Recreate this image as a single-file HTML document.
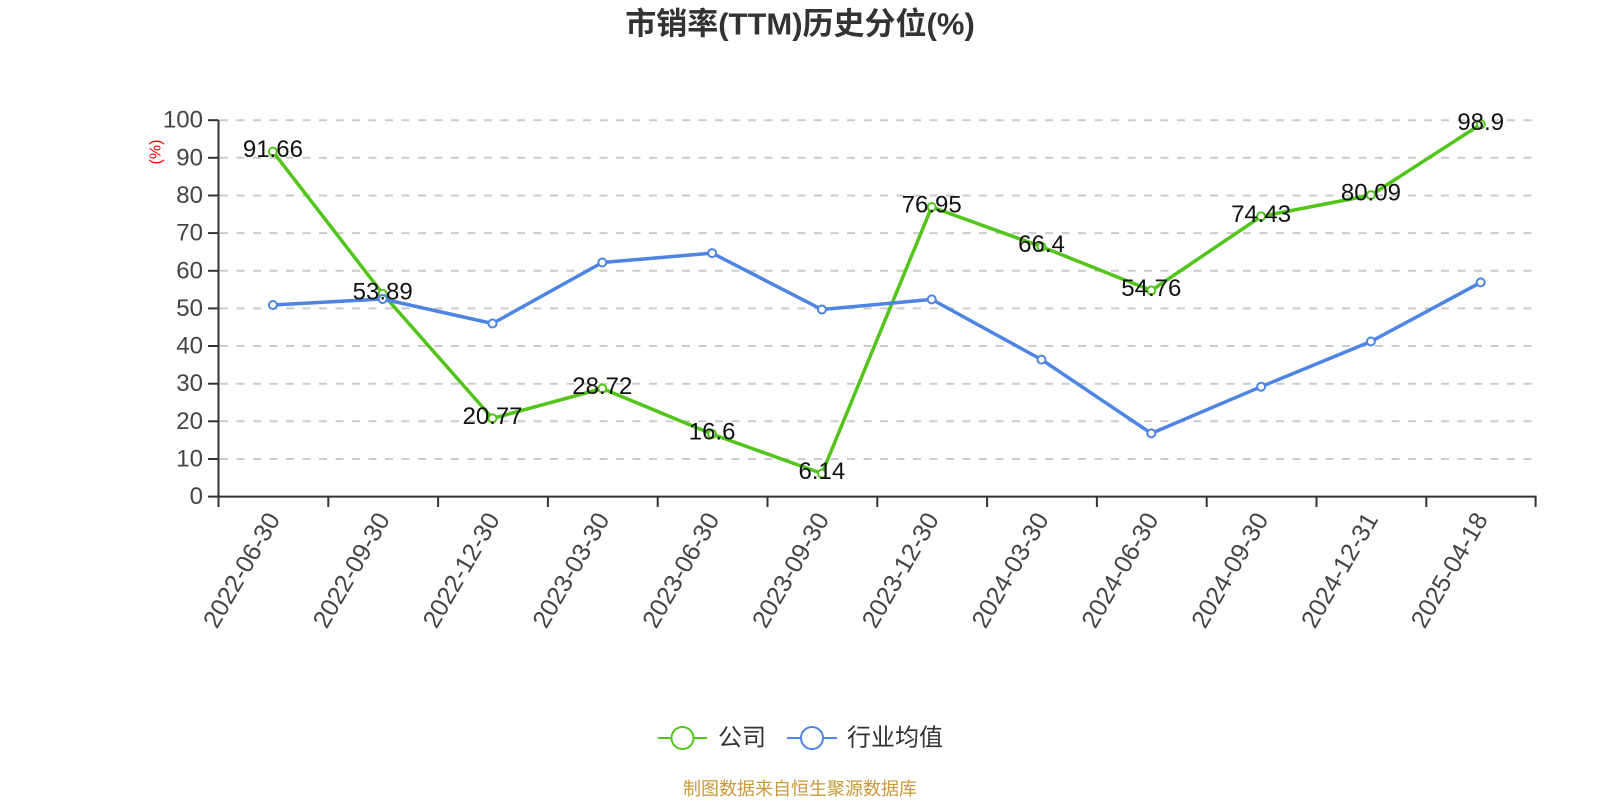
<!DOCTYPE html>
<html>
<head>
<meta charset="utf-8">
<style>
  html, body { margin: 0; padding: 0; background: #fff; }
  svg { display: block; }
  text { font-family: "Liberation Sans", "Noto Sans CJK SC", sans-serif; }
</style>
</head>
<body>
<svg width="1600" height="800" viewBox="0 0 1600 800" xmlns="http://www.w3.org/2000/svg">
  <rect width="1600" height="800" fill="#fff"/>
  <!-- Title -->
  <text x="800" y="24" text-anchor="middle" dominant-baseline="central" font-size="31" font-weight="bold" fill="#333">市销率(TTM)历史分位(%)</text>

  <!-- Grid lines -->
  <g stroke="#cccccc" stroke-width="2" stroke-dasharray="8 8.5">
    <line x1="220" y1="459.0" x2="1536" y2="459.0"/>
    <line x1="220" y1="421.3" x2="1536" y2="421.3"/>
    <line x1="220" y1="383.7" x2="1536" y2="383.7"/>
    <line x1="220" y1="346.0" x2="1536" y2="346.0"/>
    <line x1="220" y1="308.4" x2="1536" y2="308.4"/>
    <line x1="220" y1="270.8" x2="1536" y2="270.8"/>
    <line x1="220" y1="233.1" x2="1536" y2="233.1"/>
    <line x1="220" y1="195.5" x2="1536" y2="195.5"/>
    <line x1="220" y1="157.8" x2="1536" y2="157.8"/>
    <line x1="220" y1="120.2" x2="1536" y2="120.2"/>
  </g>

  <!-- Y axis -->
  <g stroke="#333" stroke-width="2">
    <line x1="218.5" y1="120" x2="218.5" y2="497.6"/>
    <line x1="208" y1="496.6" x2="218.5" y2="496.6"/>
    <line x1="208" y1="459.0" x2="218.5" y2="459.0"/>
    <line x1="208" y1="421.3" x2="218.5" y2="421.3"/>
    <line x1="208" y1="383.7" x2="218.5" y2="383.7"/>
    <line x1="208" y1="346.0" x2="218.5" y2="346.0"/>
    <line x1="208" y1="308.4" x2="218.5" y2="308.4"/>
    <line x1="208" y1="270.8" x2="218.5" y2="270.8"/>
    <line x1="208" y1="233.1" x2="218.5" y2="233.1"/>
    <line x1="208" y1="195.5" x2="218.5" y2="195.5"/>
    <line x1="208" y1="157.8" x2="218.5" y2="157.8"/>
    <line x1="208" y1="120.2" x2="218.5" y2="120.2"/>
  </g>
  <g font-size="24" fill="#444" text-anchor="end" dominant-baseline="central">
    <text x="203" y="496.6">0</text>
    <text x="203" y="459.0">10</text>
    <text x="203" y="421.3">20</text>
    <text x="203" y="383.7">30</text>
    <text x="203" y="346.0">40</text>
    <text x="203" y="308.4">50</text>
    <text x="203" y="270.8">60</text>
    <text x="203" y="233.1">70</text>
    <text x="203" y="195.5">80</text>
    <text x="203" y="157.8">90</text>
    <text x="203" y="120.2">100</text>
  </g>
  <text x="156" y="152" font-size="16" fill="#ff0000" text-anchor="middle" dominant-baseline="central" transform="rotate(-90 156 152)">(%)</text>

  <!-- X axis -->
  <g stroke="#333" stroke-width="2">
    <line x1="217.5" y1="496.6" x2="1536.6" y2="496.6"/>
    <line x1="218.5" y1="496.6" x2="218.5" y2="507"/>
    <line x1="328.3" y1="496.6" x2="328.3" y2="507"/>
    <line x1="438.1" y1="496.6" x2="438.1" y2="507"/>
    <line x1="547.9" y1="496.6" x2="547.9" y2="507"/>
    <line x1="657.7" y1="496.6" x2="657.7" y2="507"/>
    <line x1="767.5" y1="496.6" x2="767.5" y2="507"/>
    <line x1="877.3" y1="496.6" x2="877.3" y2="507"/>
    <line x1="987.1" y1="496.6" x2="987.1" y2="507"/>
    <line x1="1096.9" y1="496.6" x2="1096.9" y2="507"/>
    <line x1="1206.7" y1="496.6" x2="1206.7" y2="507"/>
    <line x1="1316.5" y1="496.6" x2="1316.5" y2="507"/>
    <line x1="1426.3" y1="496.6" x2="1426.3" y2="507"/>
    <line x1="1535.6" y1="496.6" x2="1535.6" y2="507"/>
  </g>
  <g font-size="25" fill="#444" text-anchor="end" dominant-baseline="central">
    <text x="273.9" y="515" transform="rotate(-60 273.9 515)">2022-06-30</text>
    <text x="383.7" y="515" transform="rotate(-60 383.7 515)">2022-09-30</text>
    <text x="493.5" y="515" transform="rotate(-60 493.5 515)">2022-12-30</text>
    <text x="603.3" y="515" transform="rotate(-60 603.3 515)">2023-03-30</text>
    <text x="713.1" y="515" transform="rotate(-60 713.1 515)">2023-06-30</text>
    <text x="822.9" y="515" transform="rotate(-60 822.9 515)">2023-09-30</text>
    <text x="932.7" y="515" transform="rotate(-60 932.7 515)">2023-12-30</text>
    <text x="1042.5" y="515" transform="rotate(-60 1042.5 515)">2024-03-30</text>
    <text x="1152.3" y="515" transform="rotate(-60 1152.3 515)">2024-06-30</text>
    <text x="1262.1" y="515" transform="rotate(-60 1262.1 515)">2024-09-30</text>
    <text x="1371.9" y="515" transform="rotate(-60 1371.9 515)">2024-12-31</text>
    <text x="1481.7" y="515" transform="rotate(-60 1481.7 515)">2025-04-18</text>
  </g>

  <!-- Green series (公司) -->
  <polyline fill="none" stroke="#52c41a" stroke-width="3.5" stroke-linejoin="round"
    points="272.9,151.6 382.7,293.8 492.5,418.4 602.3,388.5 712.1,434.1 821.9,473.5 931.7,207.0 1041.5,246.7 1151.3,290.5 1261.1,216.4 1370.9,195.1 1480.7,124.3"/>
  <g fill="#fff" stroke="#52c41a" stroke-width="2">
    <circle cx="272.9" cy="151.6" r="4"/>
    <circle cx="382.7" cy="293.8" r="4"/>
    <circle cx="492.5" cy="418.4" r="4"/>
    <circle cx="602.3" cy="388.5" r="4"/>
    <circle cx="712.1" cy="434.1" r="4"/>
    <circle cx="821.9" cy="473.5" r="4"/>
    <circle cx="931.7" cy="207.0" r="4"/>
    <circle cx="1041.5" cy="246.7" r="4"/>
    <circle cx="1151.3" cy="290.5" r="4"/>
    <circle cx="1261.1" cy="216.4" r="4"/>
    <circle cx="1370.9" cy="195.1" r="4"/>
    <circle cx="1480.7" cy="124.3" r="4"/>
  </g>

  <!-- Blue series (行业均值) -->
  <polyline fill="none" stroke="#4e84e2" stroke-width="3.5" stroke-linejoin="round"
    points="272.9,305.0 382.7,299.0 492.5,323.5 602.3,262.5 712.1,253.1 821.9,309.5 931.7,299.4 1041.5,359.6 1151.3,433.4 1261.1,386.7 1370.9,341.5 1480.7,282.4"/>
  <g fill="#fff" stroke="#4e84e2" stroke-width="2">
    <circle cx="272.9" cy="305.0" r="4"/>
    <circle cx="382.7" cy="299.0" r="4"/>
    <circle cx="492.5" cy="323.5" r="4"/>
    <circle cx="602.3" cy="262.5" r="4"/>
    <circle cx="712.1" cy="253.1" r="4"/>
    <circle cx="821.9" cy="309.5" r="4"/>
    <circle cx="931.7" cy="299.4" r="4"/>
    <circle cx="1041.5" cy="359.6" r="4"/>
    <circle cx="1151.3" cy="433.4" r="4"/>
    <circle cx="1261.1" cy="386.7" r="4"/>
    <circle cx="1370.9" cy="341.5" r="4"/>
    <circle cx="1480.7" cy="282.4" r="4"/>
  </g>

  <!-- Data labels -->
  <g font-size="24" fill="#111" text-anchor="middle" dominant-baseline="central">
    <text x="272.9" y="149.6">91.66</text>
    <text x="382.7" y="291.8">53.89</text>
    <text x="492.5" y="416.4">20.77</text>
    <text x="602.3" y="386.5">28.72</text>
    <text x="712.1" y="432.1">16.6</text>
    <text x="821.9" y="471.5">6.14</text>
    <text x="931.7" y="205.0">76.95</text>
    <text x="1041.5" y="244.7">66.4</text>
    <text x="1151.3" y="288.5">54.76</text>
    <text x="1261.1" y="214.4">74.43</text>
    <text x="1370.9" y="193.1">80.09</text>
    <text x="1480.7" y="122.3">98.9</text>
  </g>

  <!-- Legend -->
  <line x1="658" y1="738" x2="707" y2="738" stroke="#52c41a" stroke-width="2"/>
  <circle cx="682.5" cy="738" r="11" fill="#fff" stroke="#52c41a" stroke-width="2"/>
  <text x="718" y="738" font-size="24" fill="#333" dominant-baseline="central">公司</text>
  <line x1="787" y1="738" x2="837" y2="738" stroke="#4e84e2" stroke-width="2"/>
  <circle cx="812" cy="738" r="11" fill="#fff" stroke="#4e84e2" stroke-width="2"/>
  <text x="847" y="738" font-size="24" fill="#333" dominant-baseline="central">行业均值</text>

  <!-- Source -->
  <text x="800" y="789" font-size="18" fill="#c9983a" text-anchor="middle" dominant-baseline="central">制图数据来自恒生聚源数据库</text>
</svg>
</body>
</html>
